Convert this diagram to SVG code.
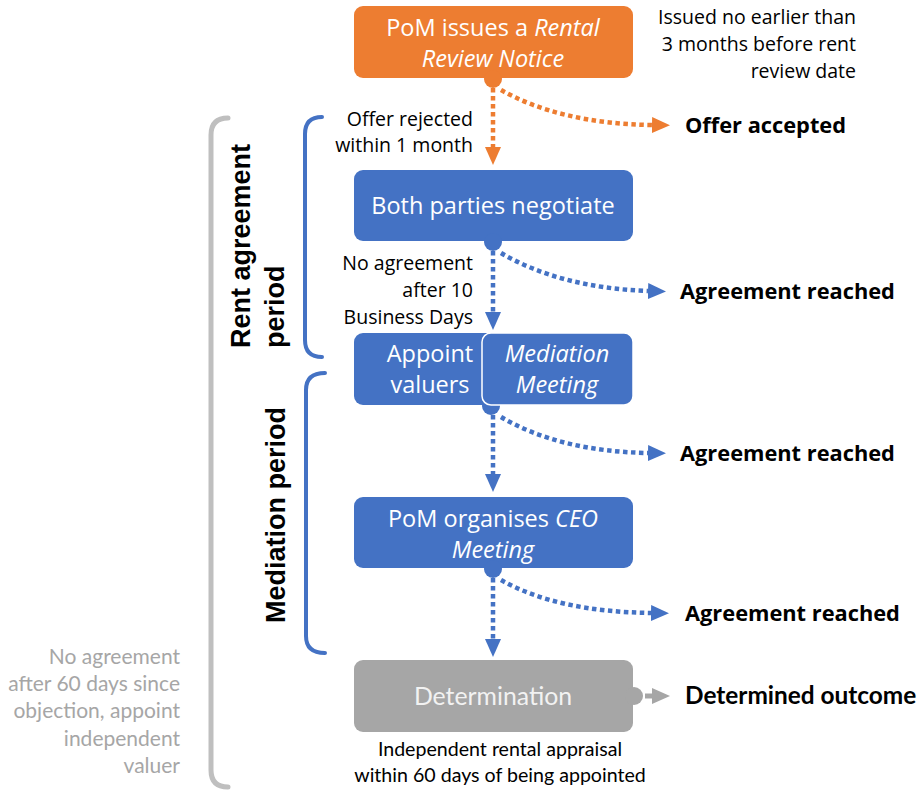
<svg xmlns="http://www.w3.org/2000/svg" width="921" height="791" viewBox="0 0 921 791">
<style>
.box{font-family:"Open Sans","Noto Sans",sans-serif;font-size:23.5px;fill:#ffffff;text-anchor:middle}
.lbl{font-family:"Open Sans","Noto Sans",sans-serif;font-size:19.5px;fill:#000000}
.out{font-family:"Open Sans","Noto Sans",sans-serif;font-size:21.8px;font-weight:bold;fill:#000000}
.cal{font-family:Lato,"Open Sans",sans-serif;font-size:19.6px}
.gry{font-family:Lato,"Open Sans",sans-serif;font-size:21px;fill:#a6a6a6;text-anchor:end}
.det{font-family:Lato,"Open Sans",sans-serif;font-size:24.8px;fill:#f2f2f2;text-anchor:middle}
.dout{font-family:Lato,"Open Sans",sans-serif;font-size:24.4px;font-weight:bold;fill:#000000}
.per{font-family:"Liberation Sans",Arial,sans-serif;font-size:27px;font-weight:bold;fill:#000000}
.dot{fill:none;stroke-width:4.5;stroke-dasharray:4.5 3.5}
.o{stroke:#ed7d31}
.b{stroke:#4472c4}
</style>
<defs>
<marker id="ao" markerUnits="userSpaceOnUse" viewBox="0 0 18 16" refX="0" refY="8" markerWidth="18" markerHeight="16" orient="auto"><path d="M0,0 L18,8 L0,16 z" fill="#ed7d31"/></marker>
<marker id="ab" markerUnits="userSpaceOnUse" viewBox="0 0 18 16" refX="0" refY="8" markerWidth="18" markerHeight="16" orient="auto"><path d="M0,0 L18,8 L0,16 z" fill="#4472c4"/></marker>
<marker id="ag" markerUnits="userSpaceOnUse" viewBox="0 0 18 16" refX="0" refY="8" markerWidth="18" markerHeight="16" orient="auto"><path d="M0,0 L18,8 L0,16 z" fill="#a6a6a6"/></marker>
</defs>

<g id="brackets" fill="none" stroke-linecap="round">
<path d="M228 118 Q211 118 211 135 V770 Q211 787 228 787" stroke="#bfbfbf" stroke-width="5"/>
<path d="M322 117 Q305 117 305 134 V340 Q305 357 322 357" stroke="#4472c4" stroke-width="4"/>
<path d="M325 373 Q306 373 306 390 V636 Q306 653 325 653" stroke="#4472c4" stroke-width="4"/>
</g>

<g id="period-labels">
<text class="per" transform="translate(250,348) rotate(-90)">Rent agreement</text>
<text class="per" transform="translate(284,348) rotate(-90)">period</text>
<text class="per" transform="translate(285,623) rotate(-90)">Mediation period</text>
</g>

<g id="connectors">
<path class="dot o" d="M493 88 V147" marker-end="url(#ao)"/>
<path class="dot o" d="M501 90 C540 112 590 124 652 125" marker-end="url(#ao)"/>
<path class="dot b" d="M493 251 V312" marker-end="url(#ab)"/>
<path class="dot b" d="M501 253 C540 276 590 289 648 291" marker-end="url(#ab)"/>
<path class="dot b" d="M493 415 V474" marker-end="url(#ab)"/>
<path class="dot b" d="M501 417 C540 440 590 452 648 453" marker-end="url(#ab)"/>
<path class="dot b" d="M493 578 V639" marker-end="url(#ab)"/>
<path class="dot b" d="M501 580 C540 602 590 612 651 613" marker-end="url(#ab)"/>
<path d="M645 696 H652" stroke="#a6a6a6" stroke-width="5" fill="none" marker-end="url(#ag)"/>
</g>

<g id="node-notice">
<rect x="354" y="6" width="279" height="72" rx="9" fill="#ed7d31"/>
<circle cx="493" cy="79" r="9" fill="#ed7d31"/>
<text class="box" x="493" y="36">PoM issues a <tspan font-style="italic">Rental</tspan></text>
<text class="box" x="493" y="67" font-style="italic">Review Notice</text>
</g>

<g id="node-negotiate">
<rect x="354" y="170" width="279" height="71" rx="9" fill="#4472c4"/>
<circle cx="493" cy="242" r="9" fill="#4472c4"/>
<text class="box" x="493" y="214">Both parties negotiate</text>
</g>

<g id="node-mediation">
<rect x="354" y="333" width="279" height="72" rx="9" fill="#4472c4"/>
<circle cx="491" cy="406" r="9" fill="#4472c4"/>
<rect x="482" y="333" width="151" height="72" rx="9" fill="#4472c4" stroke="#ffffff" stroke-width="1.5"/>
<text class="box" x="430" y="362">Appoint</text>
<text class="box" x="430" y="393">valuers</text>
<text class="box" x="557" y="362" font-style="italic">Mediation</text>
<text class="box" x="557" y="393" font-style="italic">Meeting</text>
</g>

<g id="node-ceo">
<rect x="354" y="497" width="279" height="71" rx="9" fill="#4472c4"/>
<circle cx="493" cy="569" r="9" fill="#4472c4"/>
<text class="box" x="493" y="527">PoM organises <tspan font-style="italic">CEO</tspan></text>
<text class="box" x="493" y="558" font-style="italic">Meeting</text>
</g>

<g id="node-determination">
<rect x="354" y="660" width="279" height="72" rx="9" fill="#a6a6a6"/>
<circle cx="634" cy="696" r="9" fill="#a6a6a6"/>
<text class="det" x="493" y="705">Determination</text>
</g>

<g id="labels">
<text class="lbl" text-anchor="end"><tspan x="856" y="24">Issued no earlier than</tspan><tspan x="856" y="51">3 months before rent</tspan><tspan x="856" y="78">review date</tspan></text>
<text class="lbl" text-anchor="end"><tspan x="473" y="126">Offer rejected</tspan><tspan x="473" y="152">within 1 month</tspan></text>
<text class="lbl" text-anchor="end"><tspan x="473" y="270">No agreement</tspan><tspan x="473" y="297">after 10</tspan><tspan x="473" y="324">Business Days</tspan></text>
<text class="out" x="685" y="133">Offer accepted</text>
<text class="out" x="680" y="299">Agreement reached</text>
<text class="out" x="680" y="461">Agreement reached</text>
<text class="out" x="685" y="621">Agreement reached</text>
<text class="dout" x="685" y="704">Determined outcome</text>
<text class="gry"><tspan x="180" y="664">No agreement</tspan><tspan x="180" y="691">after 60 days since</tspan><tspan x="180" y="718">objection, appoint</tspan><tspan x="180" y="746">independent</tspan><tspan x="180" y="773">valuer</tspan></text>
<text class="cal" text-anchor="middle" fill="#000000"><tspan x="500" y="756">Independent rental appraisal</tspan><tspan x="500" y="782">within 60 days of being appointed</tspan></text>
</g>
</svg>
